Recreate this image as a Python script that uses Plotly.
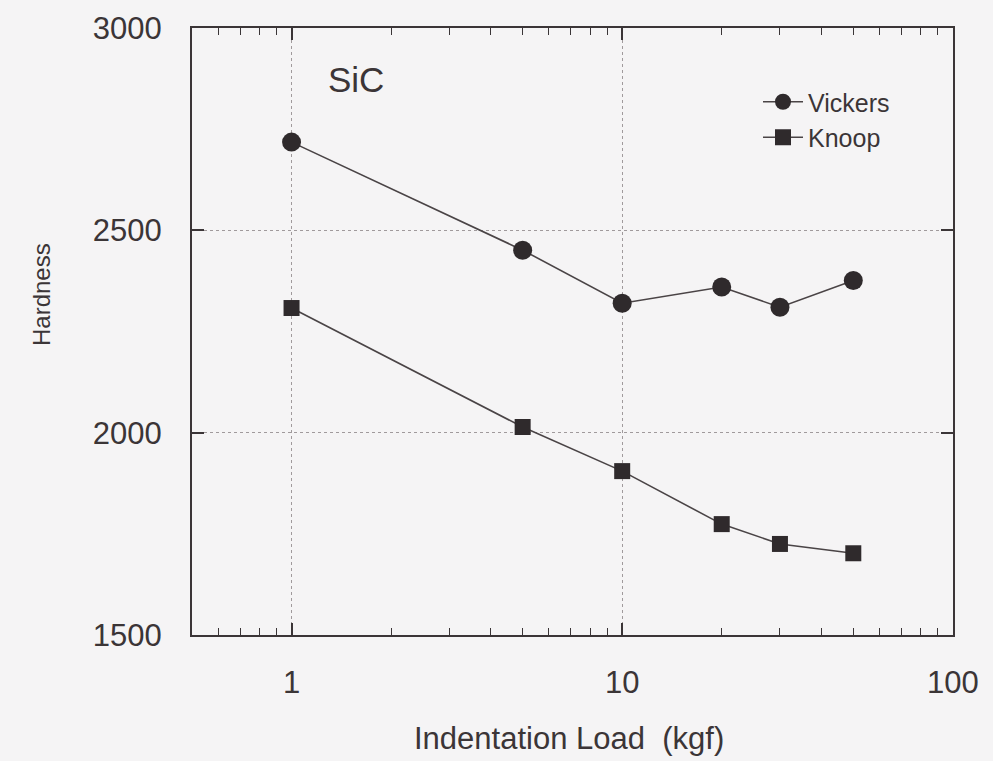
import math
import plotly.graph_objects as go

load = [1, 5, 10, 20, 30, 50]
vickers = [2718, 2451, 2320, 2360, 2310, 2376]
knoop = [2308, 2014, 1905, 1774, 1725, 1702]

x_major = [1, 10, 100]
x_major_text = ["1", "10", "100"]
x_minor = [0.6, 0.7, 0.8, 0.9, 2, 3, 4, 5, 6, 7, 8, 9, 20, 30, 40, 50, 60, 70, 80, 90]
y_ticks = [1500, 2000, 2500, 3000]

BG = "#f5f4f5"
INK = "#3b3537"
FONT = "Liberation Sans, Arial, sans-serif"

# plot area in figure pixels
L, R, T, B = 192, 40, 28, 126
W, H = 993, 761
PW, PH = W - L - R, H - T - B


def px(x):
    return (x - L) / PW


def py(y):
    return (H - B - y) / PH


fig = go.Figure()
fig.add_trace(go.Scatter(
    x=load, y=vickers, name="Vickers", mode="lines+markers",
    line=dict(color="#4a4446", width=1.6),
    marker=dict(symbol="circle", size=19, color="#2f2a2c"),
))
fig.add_trace(go.Scatter(
    x=load, y=knoop, name="Knoop", mode="lines+markers",
    line=dict(color="#4a4446", width=1.6),
    marker=dict(symbol="square", size=16, color="#2f2a2c"),
))

fig.update_layout(
    width=W, height=H,
    paper_bgcolor=BG, plot_bgcolor=BG,
    margin=dict(l=L, r=R, t=T, b=B),
    font=dict(family=FONT, color=INK),
    showlegend=True,
    legend=dict(
        x=px(758), y=py(79), xanchor="left", yanchor="top",
        bgcolor="rgba(0,0,0,0)", font=dict(size=25, color=INK),
        itemwidth=40, tracegroupgap=0,
    ),
    annotations=[
        dict(text="SiC", x=px(356), y=py(80), xref="paper", yref="paper",
             xanchor="center", yanchor="middle",
             showarrow=False, font=dict(size=35, color=INK)),
        dict(text="Hardness", x=px(41), y=py(295), xref="paper", yref="paper",
             xanchor="center", yanchor="middle",
             showarrow=False, textangle=-90, font=dict(size=24, color=INK)),
        dict(text="Indentation Load\u00a0\u00a0(kgf)", x=px(569), y=py(738),
             xref="paper", yref="paper", xanchor="center", yanchor="middle",
             showarrow=False, font=dict(size=31, color=INK)),
    ],
)

fig.update_xaxes(
    type="log", range=[math.log10(0.5), 2.0005],
    tickmode="array", tickvals=x_major, ticktext=x_major_text,
    ticks="inside", ticklen=12, tickwidth=1.5, tickcolor=INK,
    minor=dict(tickmode="array", tickvals=x_minor, ticks="inside",
               ticklen=7, tickwidth=1.2, tickcolor=INK, showgrid=False),
    showline=True, linecolor=INK, linewidth=2, mirror="ticks",
    showgrid=True, gridcolor="#a09a9c", griddash="dot", gridwidth=1.2,
    zeroline=False,
    tickfont=dict(size=31, color=INK), ticklabelstandoff=19,
)
fig.update_yaxes(
    range=[1500, 3000], tickmode="array", tickvals=y_ticks,
    ticks="inside", ticklen=12, tickwidth=1.5, tickcolor=INK,
    showline=True, linecolor=INK, linewidth=2, mirror="ticks",
    showgrid=True, gridcolor="#a09a9c", griddash="dot", gridwidth=1.2,
    zeroline=False,
    tickfont=dict(size=31, color=INK), ticklabelstandoff=22,
)

fig.write_html(
    "out.html",
    config={"displayModeBar": False},
    post_script=(
        "document.body.style.margin='0';"
        "document.body.style.background='" + BG + "';"
        "document.documentElement.style.overflow='hidden';"
    ),
)
